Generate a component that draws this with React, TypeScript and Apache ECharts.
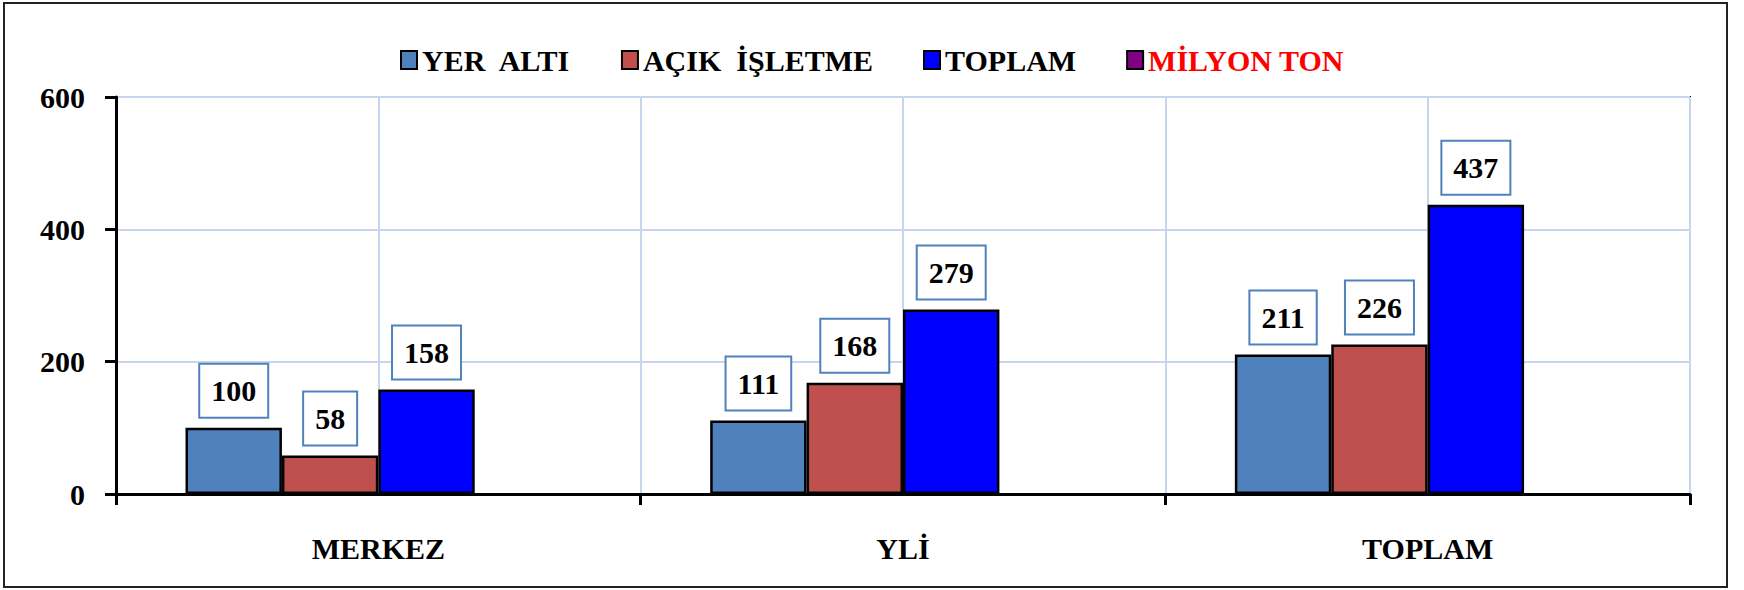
import React, { useEffect, useRef } from "react";
import * as echarts from "echarts";

const categories = ["MERKEZ", "YLİ", "TOPLAM"];
const yerAlti = [100, 111, 211];
const acikIsletme = [58, 168, 226];
const toplam = [158, 279, 437];
const milyonTon: (number | string)[] = ["-", "-", "-"];
const seriesNames = ["YER  ALTI", "AÇIK  İŞLETME", "TOPLAM", "MİLYON TON"];
const halfSlots = ["a", "b", "c", "d", "e", "f"];

const FONT = "'Liberation Serif', 'Times New Roman', serif";

export default function App() {
  const ref = useRef<HTMLDivElement>(null);
  useEffect(() => {
    document.body.style.margin = "0";
    const chart = echarts.init(ref.current!, undefined, { renderer: "svg" });
    const label = {
      show: true,
      position: "top",
      distance: 11,
      fontFamily: FONT,
      fontWeight: "bold",
      fontSize: 30,
      lineHeight: 34,
      color: "#000",
      backgroundColor: "#fff",
      borderColor: "#4F81BD",
      borderWidth: 2,
      padding: [9, 11],
    };
    const mk = (name: string, data: any[], color: string) => ({
      name,
      type: "bar",
      data,
      barGap: "0%",
      barCategoryGap: "26.5%",
      itemStyle: { color, borderColor: "#000", borderWidth: 2.5 },
      label,
    });
    chart.setOption({
      animation: false,
      backgroundColor: "#fff",
      grid: {
        left: 116,
        right: 54,
        top: 97,
        bottom: 96,
        show: true,
        borderColor: "#000",
        borderWidth: 2,
        backgroundColor: "transparent",
      },
      legend: {
        top: 40,
        left: "center",
        itemWidth: 16,
        itemHeight: 18,
        itemGap: 50,
        icon: "rect",
        textStyle: { fontFamily: FONT, fontWeight: "bold", fontSize: 30, color: "#000" },
        data: [
          { name: seriesNames[0] },
          { name: seriesNames[1] },
          { name: seriesNames[2] },
          { name: seriesNames[3], textStyle: { color: "#FF0000" } },
        ],
      },
      xAxis: [
        {
          type: "category",
          data: categories,
          axisLine: { lineStyle: { color: "#000", width: 3 } },
          axisTick: { show: true, length: 11, lineStyle: { color: "#000", width: 3 } },
          axisLabel: {
            margin: 39,
            fontFamily: FONT,
            fontWeight: "bold",
            fontSize: 30,
            color: "#000",
          },
          splitLine: { show: false },
        },
        {
          type: "category",
          data: halfSlots,
          position: "bottom",
          axisLine: { show: false },
          axisTick: { show: false },
          axisLabel: { show: false },
          splitLine: { show: true, lineStyle: { color: "#C6D6EE", width: 2 } },
        },
      ],
      yAxis: {
        type: "value",
        min: 0,
        max: 600,
        interval: 200,
        axisLine: { show: true, lineStyle: { color: "#000", width: 3 } },
        axisTick: { show: true, length: 11, lineStyle: { color: "#000", width: 3 } },
        axisLabel: {
          margin: 31,
          fontFamily: FONT,
          fontWeight: "bold",
          fontSize: 30,
          color: "#000",
        },
        splitLine: { show: true, lineStyle: { color: "#C6D6EE", width: 2 } },
      },
      graphic: [
        {
          type: "rect",
          shape: { x: 4, y: 3, width: 1723, height: 584 },
          style: { fill: "none", stroke: "#222", lineWidth: 2 },
          silent: true,
        },
      ],
      series: [
        mk(seriesNames[0], yerAlti, "#4F81BD"),
        mk(seriesNames[1], acikIsletme, "#C0504D"),
        mk(seriesNames[2], toplam, "#0000FF"),
        mk(seriesNames[3], milyonTon, "#800080"),
      ],
    });
    return () => chart.dispose();
  }, []);
  return <div ref={ref} style={{ width: 1744, height: 590 }} />;
}
